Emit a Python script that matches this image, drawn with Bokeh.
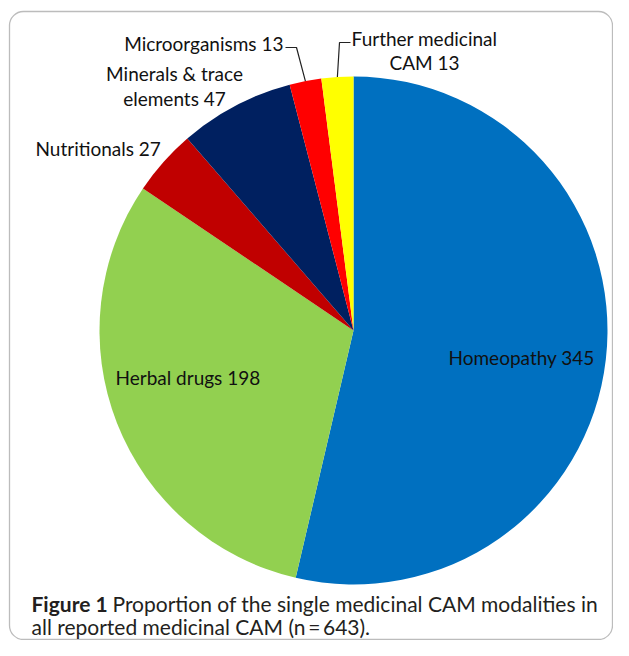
import numpy as np
from bokeh.plotting import figure
from bokeh.models import Range1d, BoxAnnotation
from bokeh.core.properties import value
from bokeh.embed import file_html
from bokeh.resources import INLINE

categories = ["Homeopathy", "Herbal drugs", "Nutritionals", "Minerals & trace elements",
              "Microorganisms", "Further medicinal CAM"]
counts = [345, 198, 27, 47, 13, 13]
colors = ["#0070C0", "#92D050", "#C00000", "#002060", "#FF0000", "#FFFF00"]
total = sum(counts)

W, H = 613, 640
p = figure(width=W, height=H, output_backend="svg", toolbar_location=None,
           x_range=Range1d(0, W), y_range=Range1d(0, H), min_border=0)
p.axis.visible = False
p.grid.visible = False
p.outline_line_color = None
p.background_fill_color = "white"

# rounded frame
p.add_layout(BoxAnnotation(left=9, right=612, bottom=1, top=H - 11, fill_alpha=0,
                           line_color="#222222", line_width=1.3, border_radius=14))

cx, cy, r = 353, 310, 254
fr = np.array(counts) / total
cum = np.concatenate([[0], np.cumsum(fr)])
start = np.pi / 2 - 2 * np.pi * cum[:-1]
end = np.pi / 2 - 2 * np.pi * cum[1:]
p.wedge(x=cx, y=cy, radius=r, start_angle=end, end_angle=start,
        fill_color=colors, line_color=None)

mid = np.pi / 2 - 2 * np.pi * (cum[:-1] + fr / 2)

font = value("Lato")
fs = "19px"
def lab(x, y, t, align="left"):
    p.text(x=[x], y=[y], text=[t], text_font=font, text_font_size=fs,
           text_color="#111111", text_align=align, text_baseline="middle")

lab(448, 283, f"{categories[0]} {counts[0]}")
lab(115, 263, f"{categories[1]} {counts[1]}")
lab(35, 492, f"{categories[2]} {counts[2]}")
lab(174, 567, "Minerals & trace", "center")
lab(174, 542, f"elements {counts[3]}", "center")
lab(283, 597, f"{categories[4]} {counts[4]}", "right")
lab(424, 602, "Further medicinal", "center")
lab(424, 578, f"CAM {counts[5]}", "center")

# leader lines
ex4, ey4 = cx + r * np.cos(mid[4]), cy + r * np.sin(mid[4])
p.line(x=[285, 296, ex4], y=[593, 593, ey4], line_color="#222222", line_width=1.2)
ex5, ey5 = cx + r * np.cos(mid[5]), cy + r * np.sin(mid[5])
p.line(x=[350, 339, ex5], y=[598, 598, ey5], line_color="#222222", line_width=1.2)

# caption
cf = value("Lato")
p.text(x=[31], y=[37], text=["Figure 1"], text_font=cf, text_font_size="21px",
       text_font_style="bold", text_color="#231f20", text_baseline="alphabetic")
p.text(x=[112], y=[37], text=["Proportion of the single medicinal CAM modalities in"],
       text_font=cf, text_font_size="21px", text_color="#231f20", text_baseline="alphabetic")
p.text(x=[31], y=[14], text=[f"all reported medicinal CAM (n\u2009=\u2009{total})."],
       text_font=cf, text_font_size="21px", text_color="#231f20", text_baseline="alphabetic")

open("out.html", "w").write(file_html(p, INLINE))
